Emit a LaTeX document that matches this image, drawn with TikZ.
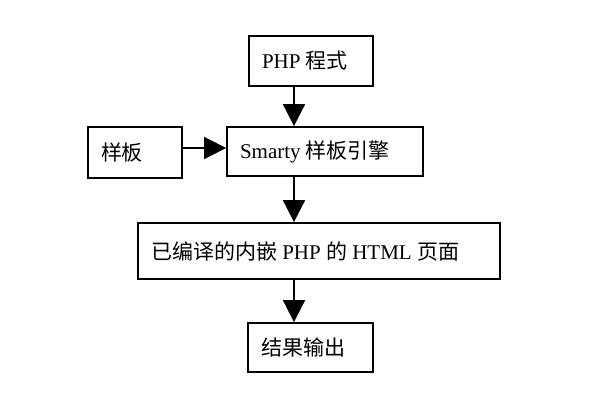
\documentclass[tikz,border=0pt]{standalone}
\usepackage{fontspec}
\setmainfont{Liberation Serif}
\newfontfamily\cjk{Noto Sans CJK SC}
\usetikzlibrary{arrows.meta}
\begin{document}
\begin{tikzpicture}[x=1pt,y=1pt,
  box/.style={draw, line width=1.8pt, minimum height=#1, inner xsep=0pt, inner ysep=0pt, font=\fontsize{21}{24}\selectfont, anchor=center},
  box/.default=50pt,
  arr/.style={line width=1.8pt, -{Triangle[length=22pt,width=22pt]}}]
\useasboundingbox (0,0) rectangle (600,-400);
\fill[white] (0,0) rectangle (600,-400);
\newcommand\boxtext[2]{\parbox{#1pt}{\hspace*{13pt}\raisebox{-2pt}{#2}\hfill}}
\node[box=50pt] (php) at (311,-61) {\boxtext{124}{PHP {\cjk 程式}}};
\node[box=51pt] (tpl) at (135,-152.5) {\boxtext{94}{{\cjk 样板}}};
\node[box=49pt] (smarty) at (325,-151.5) {\boxtext{196}{Smarty {\cjk 样板引擎}}};
\node[box=56pt] (html) at (319,-251) {\boxtext{362}{{\cjk 已编译的内嵌} PHP {\cjk 的} HTML {\cjk 页面}}};
\node[box=49pt] (out) at (310.5,-347.5) {\boxtext{125}{{\cjk 结果输出}}};
\coordinate (ax) at (294,0);
\coordinate (ay) at (0,-148);
\draw[arr] (php.south -| ax) -- (smarty.north -| ax);
\draw[arr] (tpl.east |- ay) -- (smarty.west |- ay);
\draw[arr] (smarty.south -| ax) -- (html.north -| ax);
\draw[arr] (html.south -| ax) -- (out.north -| ax);
\end{tikzpicture}
\end{document}
